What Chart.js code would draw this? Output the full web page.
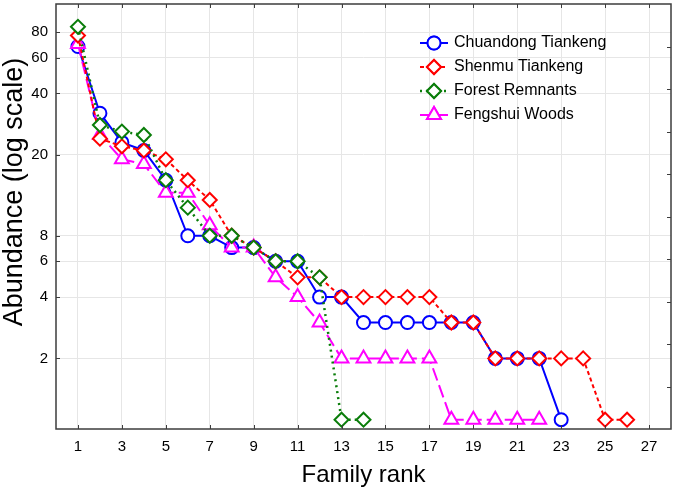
<!DOCTYPE html>
<html lang="en">
<head>
  <meta charset="UTF-8">
  <title>Family rank abundance</title>
  <style>
    html, body { margin: 0; padding: 0; background: #fff; }
    #wrap { width: 675px; height: 493px; position: relative; }
  </style>
  <script src="https://cdn.jsdelivr.net/npm/chart.js"></script>
</head>
<body>
  <div id="wrap"><canvas id="myChart" width="675" height="493"></canvas></div>

  <script>
    // data (abundance by family rank)
    const seriesNames = ["Chuandong Tiankeng", "Shenmu Tiankeng", "Forest Remnants", "Fengshui Woods"];
    const chuandong = [68, 32, 23, 21, 15, 8, 8, 7, 7, 6, 6, 4, 4, 3, 3, 3, 3, 3, 3, 2, 2, 2, 1];
    const shenmu    = [77, 24, 22, 21, 19, 15, 12, 8, 7, 6, 5, 5, 4, 4, 4, 4, 4, 3, 3, 2, 2, 2, 2, 2, 1, 1];
    const forest    = [85, 28, 26, 25, 15, 11, 8, 8, 7, 6, 6, 5, 1, 1];
    const fengshui  = [70, 25, 19, 18, 13, 13, 9, 7, 7, 5, 4, 3, 2, 2, 2, 2, 2, 1, 1, 1, 1, 1];
    const xTicks = [1, 3, 5, 7, 9, 11, 13, 15, 17, 19, 21, 23, 25, 27];
    const yTicks = [2, 4, 6, 8, 20, 40, 60, 80];
    const yTitle = 'Abundance (log scale)';

    const FONT = "'Liberation Sans', Arial, sans-serif";
    const AXIS = '#3c3c3c';

    function toPoints(arr) {
      return arr.map((v, i) => ({ x: i + 1, y: v }));
    }

    const styles = [
      { color: '#0000ff', shape: 'circle',   r: 6.5, dash: [],      width: 2,   order: 3 },
      { color: '#ff0000', shape: 'rectRot',  r: 7,   dash: [4, 3],  width: 2,   order: 1 },
      { color: '#0a7d0a', shape: 'rectRot',  r: 7,   dash: [2, 4],  width: 2.5, order: 0 },
      { color: '#ff00ff', shape: 'triangle', r: 8,   dash: [13, 5], width: 2,   order: 2 }
    ];
    const allData = [chuandong, shenmu, forest, fengshui];

    const datasets = allData.map((arr, i) => ({
      label: seriesNames[i],
      data: toPoints(arr),
      borderColor: styles[i].color,
      backgroundColor: '#ffffff',
      borderWidth: styles[i].width,
      borderDash: styles[i].dash,
      pointStyle: styles[i].shape,
      pointRadius: styles[i].r,
      pointBorderWidth: 2,
      pointBorderColor: styles[i].color,
      pointBackgroundColor: '#ffffff',
      tension: 0,
      order: styles[i].order
    }));

    // box border, inward tick marks, y title, legend inside the plot
    const frame = {
      id: 'frame',
      afterDraw(chart) {
        const ctx = chart.ctx;
        const a = chart.chartArea;
        const xs = chart.scales.x, ys = chart.scales.y;
        ctx.save();
        ctx.strokeStyle = AXIS;
        ctx.lineWidth = 1.5;
        ctx.setLineDash([]);
        ctx.strokeRect(a.left, a.top, a.right - a.left, a.bottom - a.top);
        ctx.lineWidth = 1;
        ctx.beginPath();
        xTicks.forEach(t => {
          const px = Math.round(xs.getPixelForValue(t)) + 0.5;
          ctx.moveTo(px, a.bottom); ctx.lineTo(px, a.bottom - 4);
          ctx.moveTo(px, a.top); ctx.lineTo(px, a.top + 4);
        });
        yTicks.forEach(t => {
          const py = Math.round(ys.getPixelForValue(t)) + 0.5;
          ctx.moveTo(a.left, py); ctx.lineTo(a.left + 4, py);
        });
        for (let k = 1; k < 10; k++) {
          const py = Math.round(a.top + k * (a.bottom - a.top) / 10) + 0.5;
          ctx.moveTo(a.right, py); ctx.lineTo(a.right - 4, py);
        }
        ctx.stroke();

        // y axis title (sits a little above the plot centre in the original)
        ctx.save();
        ctx.translate(15, 192);
        ctx.rotate(-Math.PI / 2);
        ctx.fillStyle = '#000';
        ctx.font = '27px ' + FONT;
        ctx.textAlign = 'center';
        ctx.textBaseline = 'middle';
        ctx.fillText(yTitle, 0, 0);
        ctx.restore();

        // legend
        const lx = 420, ly = 43, gap = 24;
        datasets.forEach((ds, i) => {
          const y = ly + i * gap;
          ctx.strokeStyle = ds.borderColor;
          ctx.lineWidth = ds.borderWidth;
          ctx.setLineDash(ds.borderDash);
          ctx.beginPath();
          ctx.moveTo(lx, y); ctx.lineTo(lx + 28, y);
          ctx.stroke();
          ctx.setLineDash([]);
          ctx.fillStyle = '#ffffff';
          ctx.lineWidth = 2;
          Chart.helpers.drawPoint(ctx, { pointStyle: ds.pointStyle, radius: ds.pointRadius, borderWidth: 2, rotation: 0 }, lx + 14, y);
          ctx.fill();
          ctx.stroke();
          ctx.fillStyle = '#000';
          ctx.font = '16px ' + FONT;
          ctx.textBaseline = 'middle';
          ctx.textAlign = 'left';
          ctx.fillText(ds.label, lx + 34, y);
        });
        ctx.restore();
      }
    };

    const ctx = document.getElementById('myChart').getContext('2d');
    const myChart = new Chart(ctx, {
      type: 'line',
      data: { datasets: datasets },
      plugins: [frame],
      options: {
        responsive: false,
        animation: false,
        layout: { autoPadding: false, padding: { top: 4, right: 4, left: 0, bottom: 0 } },
        plugins: { legend: { display: false }, tooltip: { enabled: false } },
        scales: {
          x: {
            type: 'linear',
            min: 0,
            max: 28,
            afterBuildTicks: s => { s.ticks = xTicks.map(v => ({ value: v })); },
            afterFit: s => { s.height = 64; s.paddingLeft = 0; s.paddingRight = 0; },
            grid: { color: '#e6e6e6', drawTicks: false },
            border: { display: false },
            ticks: { color: '#000', padding: 9, font: { family: FONT, size: 15 }, maxRotation: 0, autoSkip: false, callback: v => v },
            title: { display: true, text: 'Family rank', color: '#000', font: { family: FONT, size: 24 }, padding: { top: 0, bottom: 3 } }
          },
          y: {
            type: 'logarithmic',
            min: 0.9,
            max: 110,
            afterBuildTicks: s => { s.ticks = yTicks.map(v => ({ value: v })); },
            afterFit: s => { s.width = 56; s.paddingTop = 0; s.paddingBottom = 0; },
            grid: { color: '#e6e6e6', drawTicks: false },
            border: { display: false },
            ticks: { color: '#000', padding: 8, font: { family: FONT, size: 15 }, autoSkip: false, callback: v => v }
          }
        }
      }
    });
  </script>
</body>
</html>
